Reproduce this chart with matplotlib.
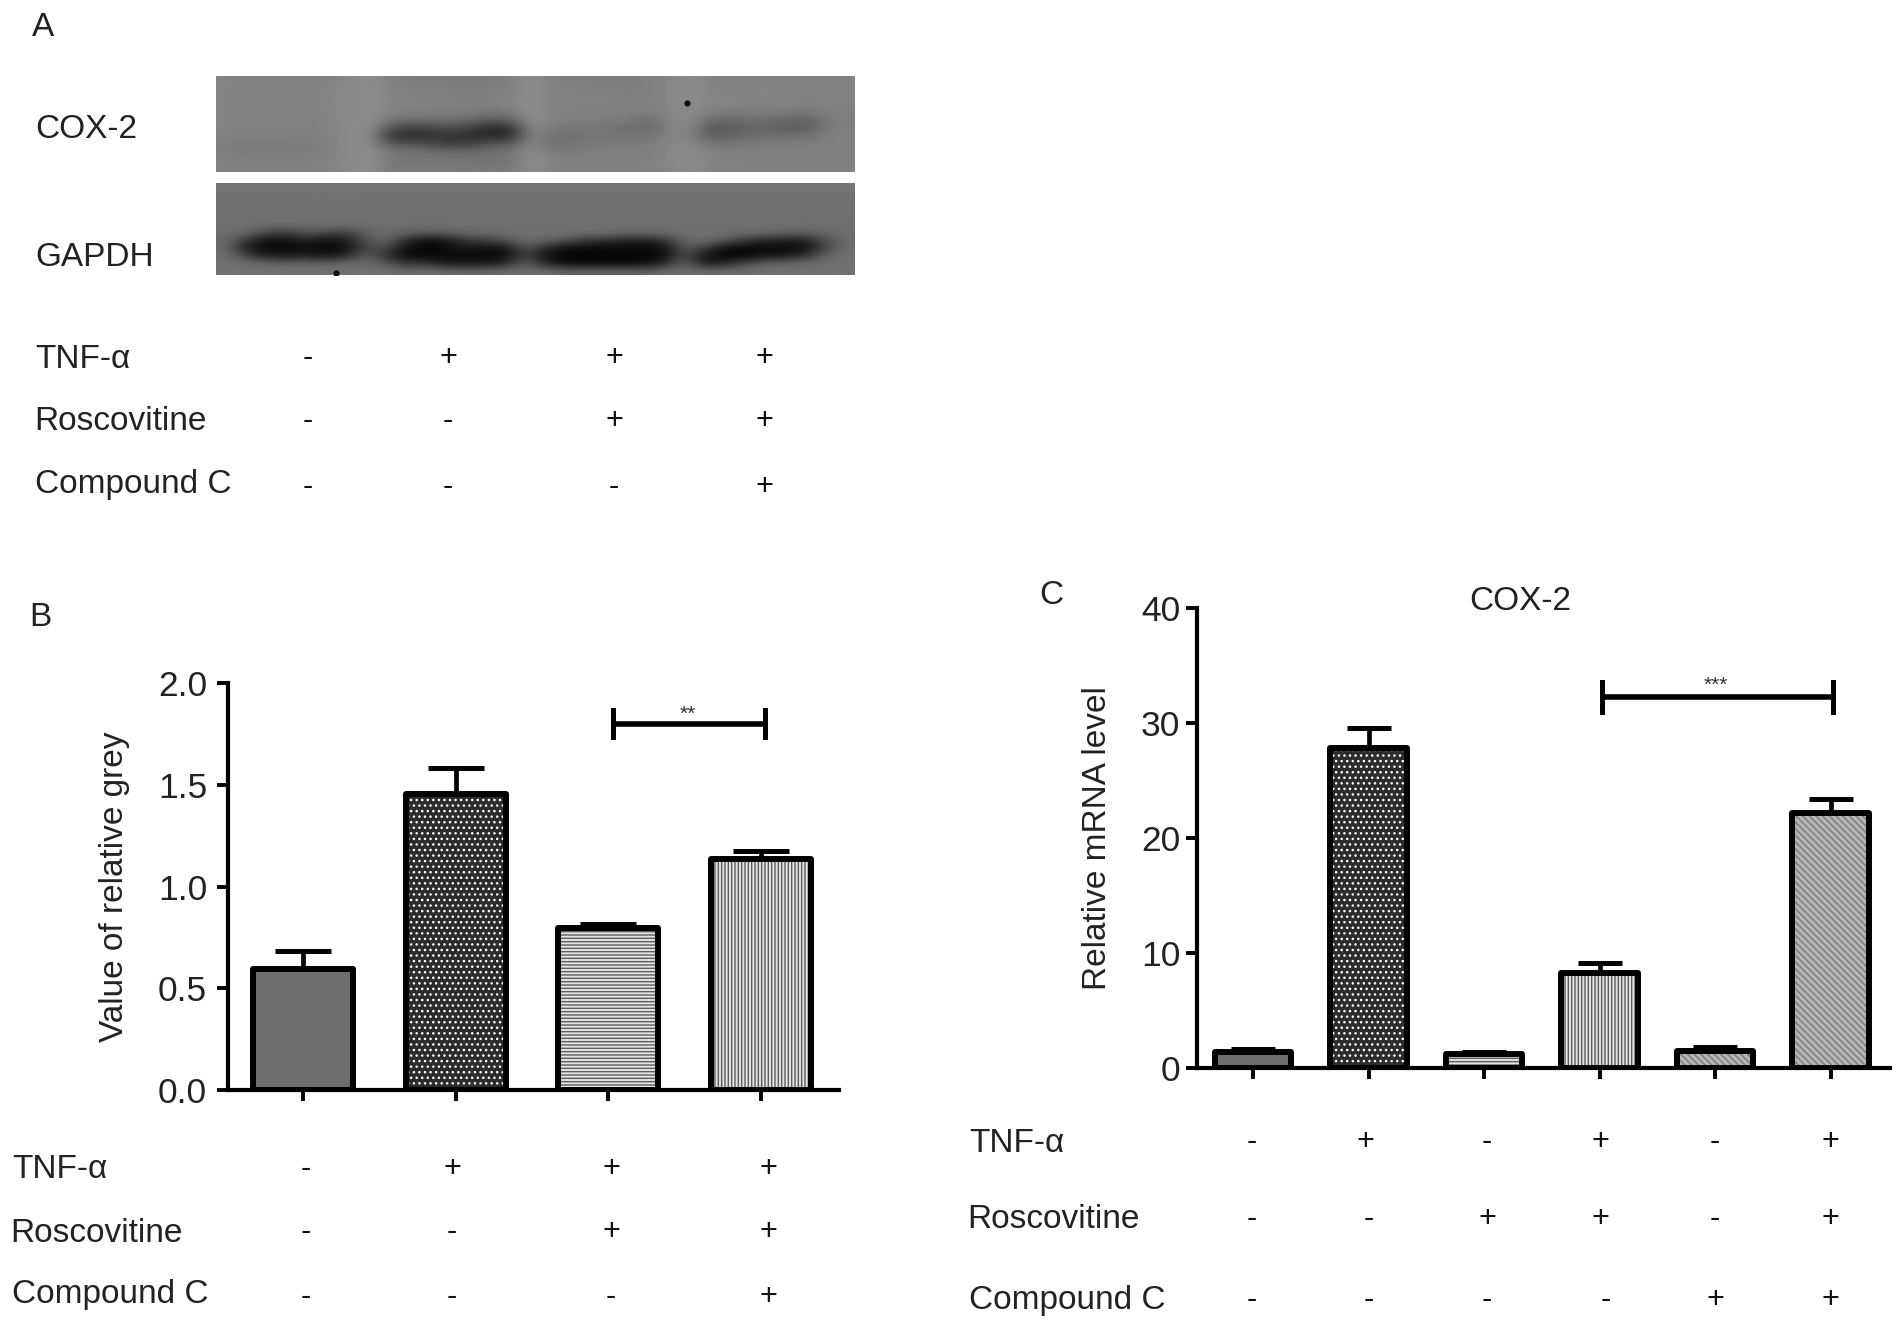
import numpy as np
import matplotlib
matplotlib.use('Agg')
import matplotlib.pyplot as plt

W, H = 1903, 1323
plt.rcParams['font.family'] = ['Liberation Sans', 'DejaVu Sans']
plt.rcParams['hatch.linewidth'] = 1.0

# Panel B data
b_values = [0.595, 1.455, 0.795, 1.135]
b_err = [0.09, 0.125, 0.02, 0.04]
b_ticks = [0.0, 0.5, 1.0, 1.5, 2.0]
b_tick_labels = ['0.0', '0.5', '1.0', '1.5', '2.0']
b_hatch = [None, '...', '-----', '|||||']
b_face = ['#6e6e6e', '#2c2c2c', '#e4e4e4', '#e4e4e4']
b_hatch_col = ['#6e6e6e', 'white', '#5c5c5c', '#5c5c5c']

# Panel C data
c_values = [1.4, 27.8, 1.2, 8.3, 1.5, 22.2]
c_err = [0.25, 1.8, 0.2, 0.8, 0.35, 1.2]
c_ticks = [0, 10, 20, 30, 40]
c_hatch = [None, '...', '-----', '|||||', '\\\\\\\\\\', '\\\\\\\\\\']
c_face = ['#6e6e6e', '#2c2c2c', '#e4e4e4', '#e4e4e4', '#b4b4b4', '#b4b4b4']
c_hatch_col = ['#6e6e6e', 'white', '#5c5c5c', '#5c5c5c', '#7a7a7a', '#7a7a7a']

# Treatment rows
row_names = ['TNF-α', 'Roscovitine', 'Compound C']
a_signs = [['-', '+', '+', '+'], ['-', '-', '+', '+'], ['-', '-', '-', '+']]
b_signs = a_signs
c_signs = [['-', '+', '-', '+', '-', '+'], ['-', '-', '+', '+', '-', '+'], ['-', '-', '-', '-', '+', '+']]

# Western blot grey levels (coarse grid, 0 black - 255 white)
cox2_grey = [
    [134, 130, 130, 130, 130, 128, 130, 136, 142, 128, 124, 124, 124, 122, 124, 128, 142, 128, 126, 128, 126, 126, 128, 134, 140, 130, 130, 130, 132, 130, 128, 130],
    [132, 130, 130, 130, 130, 130, 132, 138, 142, 130, 128, 126, 126, 124, 126, 128, 142, 130, 128, 128, 126, 126, 128, 134, 140, 130, 130, 130, 130, 130, 130, 130],
    [132, 130, 130, 130, 130, 130, 132, 138, 142, 130, 128, 128, 128, 126, 128, 130, 142, 128, 130, 130, 128, 128, 128, 134, 140, 130, 130, 132, 130, 130, 130, 130],
    [132, 130, 130, 130, 130, 130, 132, 138, 142, 130, 130, 128, 128, 128, 128, 130, 142, 130, 130, 130, 128, 128, 128, 134, 140, 132, 132, 130, 130, 130, 128, 130],
    [132, 130, 130, 130, 130, 128, 132, 138, 142, 128, 128, 126, 126, 124, 120, 124, 142, 130, 128, 128, 128, 128, 126, 134, 140, 126, 122, 124, 124, 122, 120, 128],
    [132, 130, 130, 130, 130, 128, 132, 138, 142, 116, 108, 110, 112, 104, 88, 96, 142, 128, 128, 128, 124, 120, 112, 134, 136, 106, 104, 112, 108, 100, 98, 126],
    [132, 130, 130, 130, 130, 128, 132, 138, 140, 80, 62, 70, 78, 62, 42, 48, 140, 122, 118, 120, 114, 108, 104, 134, 132, 88, 92, 102, 100, 92, 94, 128],
    [130, 128, 128, 128, 128, 126, 130, 138, 136, 50, 44, 50, 50, 44, 40, 42, 138, 110, 112, 116, 118, 118, 116, 134, 132, 92, 100, 108, 112, 110, 116, 128],
    [128, 124, 122, 122, 124, 124, 130, 138, 138, 84, 84, 72, 60, 66, 84, 92, 138, 112, 116, 122, 124, 124, 126, 134, 136, 118, 118, 122, 124, 124, 126, 128],
    [128, 124, 124, 124, 124, 126, 130, 138, 142, 120, 118, 112, 108, 110, 112, 118, 140, 124, 124, 126, 128, 128, 128, 134, 140, 128, 128, 128, 128, 128, 128, 128],
    [130, 128, 128, 128, 128, 128, 130, 138, 142, 116, 114, 116, 116, 114, 112, 116, 142, 128, 128, 128, 128, 128, 128, 134, 140, 130, 130, 128, 128, 128, 128, 128],
    [130, 130, 130, 130, 130, 130, 132, 138, 142, 122, 122, 122, 122, 120, 120, 122, 142, 130, 130, 130, 130, 130, 130, 134, 140, 130, 130, 130, 130, 130, 130, 130],
]
gapdh_grey = [
    [116, 116, 116, 116, 116, 116, 116, 116, 116, 116, 116, 116, 116, 116, 116, 116, 116, 116, 116, 116, 116, 116, 116, 116, 116, 116, 116, 116, 116, 116, 116, 116],
    [114, 114, 114, 114, 114, 114, 116, 114, 114, 114, 114, 114, 114, 114, 114, 114, 114, 114, 114, 114, 114, 114, 114, 114, 114, 114, 114, 114, 114, 114, 114, 114],
    [112, 112, 112, 112, 112, 114, 112, 112, 112, 112, 112, 112, 112, 112, 112, 112, 112, 112, 112, 112, 112, 112, 112, 112, 112, 112, 112, 112, 112, 112, 112, 112],
    [112, 112, 112, 112, 112, 112, 112, 112, 112, 112, 112, 112, 112, 112, 112, 112, 112, 112, 112, 112, 112, 112, 112, 112, 112, 112, 112, 112, 112, 112, 112, 112],
    [112, 112, 112, 112, 112, 112, 112, 112, 112, 112, 112, 112, 112, 112, 112, 112, 112, 112, 112, 112, 112, 112, 112, 112, 112, 112, 112, 112, 112, 112, 112, 112],
    [110, 110, 110, 108, 110, 110, 110, 110, 110, 110, 110, 110, 110, 110, 110, 110, 110, 110, 110, 110, 110, 110, 110, 110, 110, 110, 110, 110, 110, 110, 110, 110],
    [110, 105, 70, 55, 85, 70, 60, 95, 110, 100, 85, 95, 105, 108, 110, 112, 112, 112, 112, 110, 105, 105, 108, 112, 112, 112, 108, 105, 100, 95, 105, 110],
    [108, 50, 15, 15, 35, 15, 25, 80, 105, 40, 15, 15, 55, 60, 80, 110, 100, 80, 55, 45, 35, 30, 50, 105, 110, 85, 55, 35, 30, 30, 75, 108],
    [108, 30, 8, 8, 12, 8, 12, 70, 75, 12, 8, 10, 25, 15, 15, 85, 40, 12, 8, 8, 8, 8, 15, 90, 60, 10, 8, 8, 8, 12, 70, 110],
    [110, 70, 30, 25, 35, 20, 40, 95, 50, 10, 10, 10, 8, 8, 12, 70, 15, 6, 6, 6, 6, 6, 12, 85, 15, 6, 8, 20, 25, 50, 100, 112],
    [112, 110, 105, 100, 105, 100, 105, 110, 90, 50, 55, 25, 25, 25, 40, 95, 40, 12, 10, 10, 10, 12, 40, 100, 25, 45, 70, 100, 105, 108, 110, 112],
    [114, 112, 112, 112, 112, 112, 112, 114, 112, 108, 108, 106, 104, 104, 106, 112, 108, 100, 100, 100, 100, 100, 108, 112, 104, 108, 112, 112, 112, 112, 112, 114],
]
# Dark specks on the membrane: (column, row) on the grey grids
cox2_specks = [(23.1, 2.9)]
gapdh_specks = [(5.5, 11.3)]

fig = plt.figure(figsize=(W / 100, H / 100), dpi=100, facecolor='white')


def axes_px(x0, y0, x1, y1):
    return fig.add_axes([x0 / W, 1 - y1 / H, (x1 - x0) / W, (y1 - y0) / H])


# Panel A blots
for grey, specks, box, shift in ((cox2_grey, cox2_specks, (216, 76, 855, 172), 0.7),
                                 (gapdh_grey, gapdh_specks, (216, 183, 855, 275), 0.0)):
    ax = axes_px(*box)
    padded = [row + row[-1:] for row in grey]
    n_rows, n_cols = len(padded), len(padded[0])
    ax.imshow(padded, cmap='gray', vmin=0, vmax=255, aspect='auto', interpolation='bicubic',
              extent=(-0.5 - shift, n_cols - 0.5 - shift, n_rows - 0.5, -0.5))
    for c, r in specks:
        ax.plot(c, r, 'o', ms=4.5, color='#111111', mew=0)
    ax.set_xlim(-0.5, n_cols - 1.5)
    ax.set_ylim(n_rows - 0.5, -0.5)
    ax.axis('off')


def bar_panel(box, xlim, ylim, values, err, hatches, faces, hatch_cols, ticks, tick_labels,
              ylabel, ylabel_x, width, cap, pad):
    ax = axes_px(*box)
    x = np.arange(len(values))
    ax.errorbar(x, values, yerr=[np.zeros(len(values)), err], fmt='none', ecolor='black',
                elinewidth=3.4, capsize=cap, capthick=3.6, zorder=1)
    for xi, v, h, f, hc in zip(x, values, hatches, faces, hatch_cols):
        ax.bar(xi, v, width=width, facecolor=f, edgecolor=hc, linewidth=0, hatch=h, zorder=2)
    ax.bar(x, values, width=width, fill=False, edgecolor='black', linewidth=4.3,
           joinstyle='round', zorder=3)
    ax.set_xlim(*xlim)
    ax.set_ylim(*ylim)
    ax.patch.set_alpha(0)
    for s in ('top', 'right'):
        ax.spines[s].set_visible(False)
    for s in ('left', 'bottom'):
        ax.spines[s].set_linewidth(3.0)
        ax.spines[s].set_zorder(4)
    ax.set_xticks(x)
    ax.set_xticklabels([])
    ax.set_yticks(ticks)
    ax.set_yticklabels(tick_labels, fontsize=25.5, color='#222222')
    ax.tick_params(axis='both', width=2.8, length=8)
    ax.tick_params(axis='y', pad=pad)
    fig.text(ylabel_x / W, 1 - (box[1] + box[3]) / 2 / H, ylabel, rotation=90,
             ha='center', va='center', fontsize=24, color='#222222')
    return ax


ax_b = bar_panel((228, 683, 839, 1090), (-0.491, 3.51), (0, 2.0), b_values, b_err, b_hatch, b_face, b_hatch_col,
                 b_ticks, b_tick_labels, 'Value of relative grey', 114, 0.655, 20, 7)
ax_c = bar_panel((1197, 608, 1890, 1068), (-0.485, 5.515), (0, 40), c_values, c_err, c_hatch, c_face, c_hatch_col,
                 c_ticks, [str(t) for t in c_ticks], 'Relative mRNA level', 1097, 0.66, 16, 4)

# Overlay for labels, in pixels
ov = fig.add_axes([0, 0, 1, 1])
ov.set_xlim(0, W)
ov.set_ylim(H, 0)
ov.axis('off')
ov.patch.set_alpha(0)

TXT = dict(fontsize=24, color='#222222', va='center')


def sign_rows(names, signs, name_x, name_y, xs, ys):
    for n, nx, ny, row, y, rx in zip(names, name_x, name_y, signs, ys, xs):
        ov.text(nx, ny, n, ha='left', **TXT)
        for s, px in zip(row, rx):
            ov.text(px, y, s, ha='center', va='center', fontsize=22, color='#111111')


sign_rows(row_names, a_signs, [35, 34, 35], [359, 422, 484],
          [[308, 448, 614, 764]] * 3, [358, 421, 487])
sign_rows(row_names, b_signs, [12, 10, 12], [1170, 1233, 1295],
          [[306, 452, 611, 768], [306, 452, 611, 768], [306, 452, 611, 768]], [1169, 1232, 1297])
sign_rows(row_names, c_signs, [969, 967, 969], [1143, 1220, 1300],
          [[1252, 1365, 1487, 1600, 1715, 1830], [1252, 1369, 1487, 1600, 1715, 1830],
           [1252, 1369, 1487, 1606, 1715, 1830]], [1142, 1219, 1300])

ov.text(32, 28, 'A', ha='left', **TXT)
ov.text(29, 617, 'B', ha='left', **TXT)
ov.text(1039, 596, 'C', ha='left', **TXT)
ov.text(35, 129, 'COX-2', ha='left', **TXT)
ov.text(35, 258, 'GAPDH', ha='left', **TXT)
ov.text(1520, 602, 'COX-2', ha='center', **TXT)

# Significance brackets, in each panel's own data coordinates
for ax, x0, x1, y, cap, stars in ((ax_b, 2.03, 3.025, 1.80, 0.065, '**'), (ax_c, 3.02, 5.02, 32.3, 1.3, '***')):
    ax.plot([x0, x1], [y, y], color='black', lw=4, solid_capstyle='butt', clip_on=False)
    ax.plot([x0, x0], [y - cap, y + cap], color='black', lw=3.6, clip_on=False)
    ax.plot([x1, x1], [y - cap, y + cap], color='black', lw=3.6, clip_on=False)
    ax.text((x0 + x1) / 2 - 0.01, y + cap * 0.72, stars, ha='center', va='center', fontsize=15, color='#333333')

fig.savefig('out.png', dpi=100, facecolor='white')
